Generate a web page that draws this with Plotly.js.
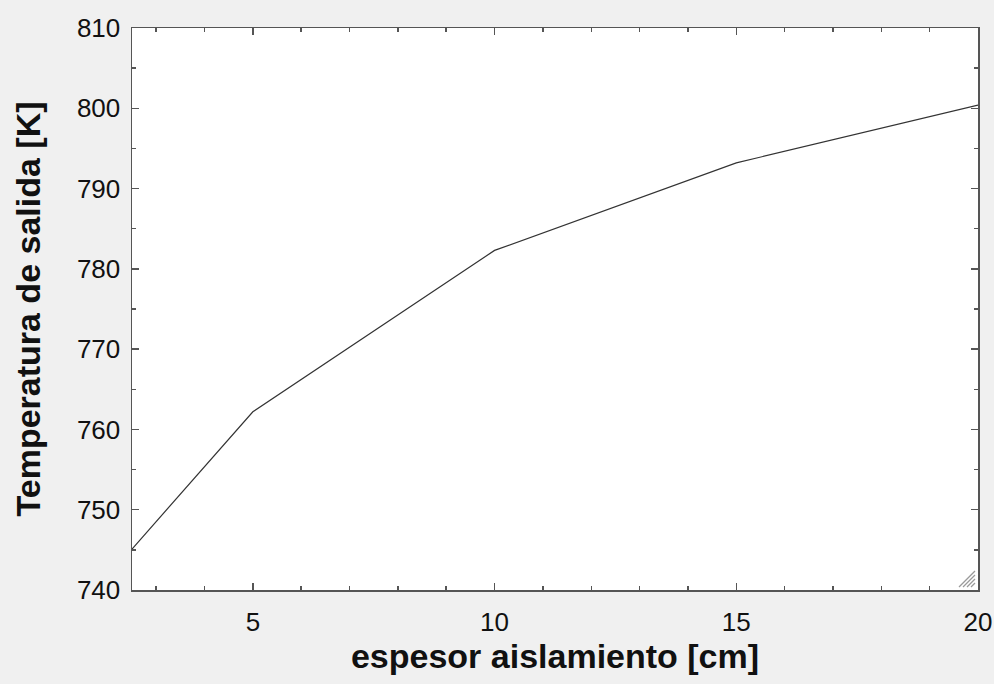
<!DOCTYPE html>
<html><head><meta charset="utf-8">
<script src="https://cdn.plot.ly/plotly-3.0.1.min.js"></script>
<style>html,body{margin:0;padding:0;background:#f0f0f0;}</style>
</head><body>
<div id="chart" style="width:994px;height:684px;"></div>
<script>
const espesor = [2.5, 5, 10, 15, 20];
const temperatura = [745.1, 762.2, 782.3, 793.2, 800.4];
const xTitle = "espesor aislamiento [cm]";
const yTitle = "Temperatura de salida [K]";

const FONT = 'Liberation Sans, Arial, sans-serif';
const axisCommon = {
  showgrid: false, zeroline: false, showline: true, linecolor: '#555', linewidth: 1.5,
  mirror: 'allticks', ticks: 'inside', ticklen: 7, tickwidth: 1.5, tickcolor: '#555',
  tickfont: {family: FONT, size: 26, color: '#111'}
};

Plotly.newPlot('chart', [{
  x: espesor, y: temperatura, type: 'scatter', mode: 'lines',
  line: {color: '#333', width: 1.2}, hoverinfo: 'none'
}], {
  width: 994, height: 684,
  paper_bgcolor: '#f0f0f0', plot_bgcolor: '#ffffff',
  margin: {l: 132, r: 16, t: 28, b: 94},
  showlegend: false,
  xaxis: Object.assign({}, axisCommon, {
    range: [2.5, 20], tickvals: [5, 10, 15, 20], ticklabelstandoff: 8,
    minor: {ticks: 'inside', dtick: 1, tick0: 0, ticklen: 4, tickwidth: 1.5, tickcolor: '#555'},
    title: {text: xTitle, standoff: 8, font: {family: FONT, size: 34, color: '#111', weight: 'bold'}}
  }),
  yaxis: Object.assign({}, axisCommon, {
    range: [740, 810], dtick: 10, tick0: 740, ticklabelstandoff: 5,
    minor: {ticks: 'inside', dtick: 5, ticklen: 4, tickwidth: 1.5, tickcolor: '#555'},
    title: {text: yTitle, standoff: 26, font: {family: FONT, size: 34, color: '#111', weight: 'bold'}}
  }),
  shapes: [0, 1, 2, 3].map(i => ({
    type: 'line', xref: 'paper', yref: 'paper',
    xsizemode: 'pixel', ysizemode: 'pixel', xanchor: 1, yanchor: 0,
    x0: -3 - (i + 1) * 4, y0: 3, x1: -3, y1: 3 + (i + 1) * 4,
    line: {color: '#9a9a9a', width: 1.3}
  }))
}, {staticPlot: true});
</script>
</body></html>
